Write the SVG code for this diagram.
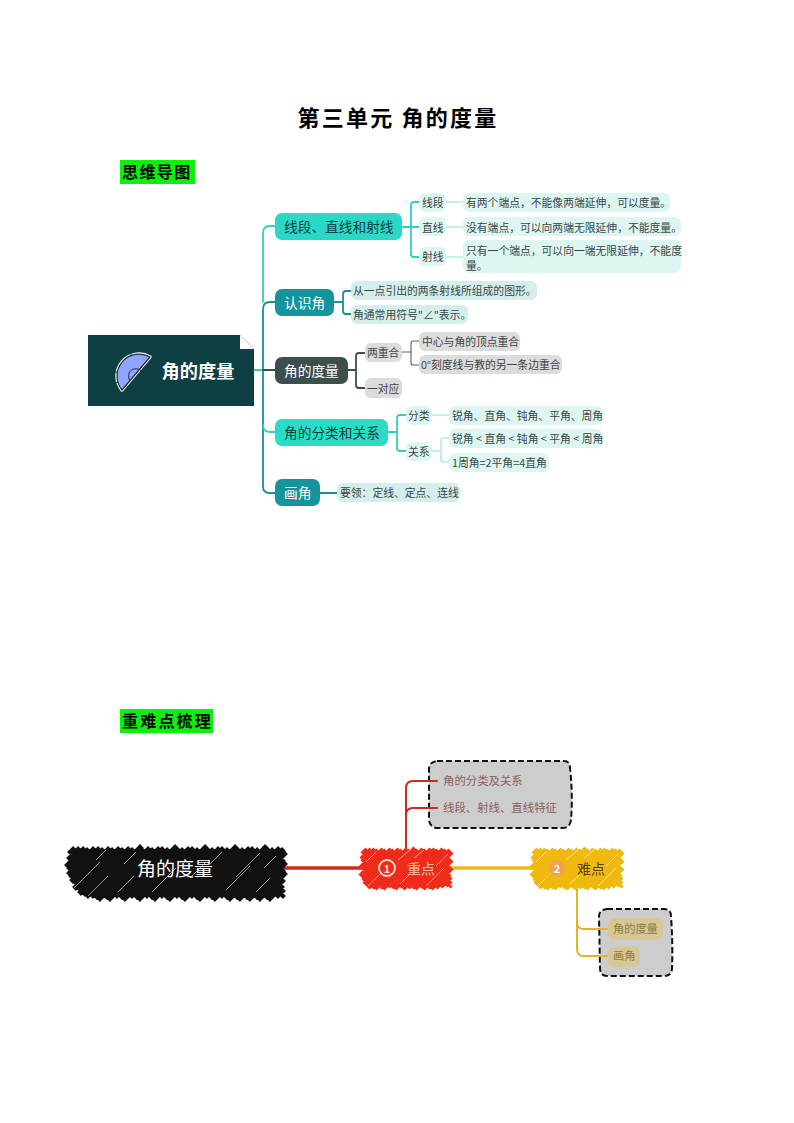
<svg xmlns="http://www.w3.org/2000/svg" xmlns:xlink="http://www.w3.org/1999/xlink" width="794" height="1123" viewBox="0 0 794 1123">
<style>
text{font-family:"Noto Sans CJK SC","Noto Sans",sans-serif;dominant-baseline:central;transform:translateY(-1px)}
.head{font-weight:700;fill:#000}
.n14{font-size:13.7px}
.leaf{font-size:10.8px;fill:#3c4645}
.w{fill:#fff}
.dk{fill:#10403f}
.c{fill:none;stroke-linecap:round}
.teal{stroke:#2fd0bf;stroke-width:1.8}
.tealthin{stroke:#8fe6da;stroke-width:1.2}
.petrol{stroke:#15909b;stroke-width:1.8}
.slate{stroke:#3d4f4d;stroke-width:1.8}
.slate2{stroke:#55605e;stroke-width:1.1}
.mint{fill:#def6f2}
.pale{fill:#d4eeec}
.grey{fill:#dcdcdc}
.box{fill:#cdcdcd;stroke:#111;stroke-width:2;stroke-dasharray:6 3}
.st{stroke:#fff;stroke-width:.8;opacity:.7;fill:none}
.red{stroke:#cf2a20;stroke-width:2;fill:none;stroke-linecap:round}
.yel{stroke:#e3b32c;stroke-width:2;fill:none;stroke-linecap:round}
</style>
<defs>
<path id="sc90" stroke-width="4.4" fill="none" d="M1 5L6 0M0 10L10 0M1 13L14 0M-1 19L17 1M1 21L22 0M-1 27L25 1M1 29L30 0M2 32L33 1M3 35L38 0M5 37L41 1M7 39L46 0M11 39L49 1M14 40L54 -1M19 39L57 1M22 40L62 0M27 38L65 1M31 39L70 0M34 40L74 0M39 38L77 1M42 40L82 0M47 39L85 1M51 39L89 1M54 40L91 3M59 38L89 9M62 40L91 11M67 39L89 17M70 40L91 19M75 39L89 25M80 38L90 28M85 37L90 32M88 38L90 36"/>
</defs>

<g id="title"><text class="head" x="398" y="117" font-size="22" letter-spacing="2.2" text-anchor="middle">第三单元 角的度量</text></g>
<g id="heading1"><rect x="120" y="160" width="75" height="24" fill="#0cf00c"/><text class="head" x="122" y="172" font-size="16" letter-spacing="1.4">思维导图</text></g>
<g id="heading2"><rect x="120" y="709" width="93" height="24" fill="#0cf00c"/><text class="head" x="122" y="721" font-size="16" letter-spacing="2.2">重难点梳理</text></g>

<g id="connectors">
<path class="c teal" d="M263 302V233Q263 226 270 226H275"/>
<path class="c petrol" d="M263 309Q263 302 270 302H275M263 309V487Q263 493 270 493H275"/>
<path class="c teal" d="M263 425Q263 432 270 432H275"/>
<path d="M254 370H263" class="c teal"/>
<path d="M263 370H275" class="c slate"/>
<path class="c teal" d="M402 227H411M419 202H414Q411 202 411 205V254Q411 257 414 257H419M411 227H419"/>
<path class="c tealthin" d="M446 202H463M446 227H463M446 257H463"/>
<path class="c petrol" d="M334 302H343M351 291H346Q343 291 343 294V311Q343 314 346 314H351"/>
<path class="c slate" d="M348 370H356M365 353H359Q356 353 356 356V385Q356 388 359 388H365"/>
<path class="c slate2" d="M402 352H411M419 341H413Q411 341 411 343V363Q411 365 413 365H419"/>
<path class="c teal" d="M388 432H397M406 415H400Q397 415 397 418V448Q397 451 400 451H406"/>
<path class="c tealthin" d="M432 415H449M432 451H441M449 438H443Q441 438 441 440V460Q441 462 443 462H449"/>
<path class="c petrol" d="M320 493H337"/>
<path d="M282 868H364" fill="none" stroke="#d52a1f" stroke-width="3.5"/>
<path d="M449 868H534" fill="none" stroke="#ecb720" stroke-width="3.5"/>
</g>

<g id="central"><path d="M88 335H240L254 349V406H88Z" fill="#0e3f42"/><path d="M240 335L254 349H240Z" fill="#fff"/>
<path d="M122 390A22 22 0 0 1 150 357Z" fill="#8fa5ff" stroke="#fff" stroke-width="3.4" stroke-linejoin="round"/>
<path d="M122 390A22 22 0 0 1 150 357Z" fill="#8fa5ff" stroke="#1b2a3a" stroke-width="1.2" stroke-linejoin="round"/>
<path d="M130 381C127 376 129 370 134 369C138 368 141 370 143 373M131 353V356M119 359L121 361M114 372H117M116 383L118 382" fill="none" stroke="#1b2a3a" stroke-width="1"/>
<text x="198" y="371" font-size="18.2" font-weight="700" text-anchor="middle" class="w">角的度量</text></g>

<g id="n1"><rect x="275" y="213" width="127" height="27" rx="7" fill="#2ad8c5"/><text class="n14 dk" x="284" y="227">线段、直线和射线</text></g>
<g id="n1a"><rect class="mint" x="419" y="193" width="27" height="19" rx="6"/><text class="leaf" x="422" y="203">线段</text></g>
<g id="n1b"><rect class="mint" x="419" y="217" width="27" height="19" rx="6"/><text class="leaf" x="422" y="228">直线</text></g>
<g id="n1c"><rect class="mint" x="419" y="247" width="27" height="19" rx="6"/><text class="leaf" x="422" y="257">射线</text></g>
<g id="n1a1"><rect class="mint" x="463" y="193" width="207" height="19" rx="6"/><text class="leaf" x="466" y="203">有两个端点，不能像两端延伸，可以度量。</text></g>
<g id="n1b1"><rect class="mint" x="463" y="217" width="218" height="19" rx="6"/><text class="leaf" x="466" y="228">没有端点，可以向两端无限延伸，不能度量。</text></g>
<g id="n1c1"><rect class="mint" x="463" y="240" width="218" height="33" rx="6"/><text class="leaf" x="466" y="251">只有一个端点，可以向一端无限延伸，不能度</text><text class="leaf" x="466" y="266">量。</text></g>

<g id="n2"><rect x="275" y="289" width="59" height="27" rx="7" fill="#17939e"/><text class="n14 w" x="284" y="303">认识角</text></g>
<g id="n2a"><rect class="pale" x="351" y="281" width="186" height="19" rx="6"/><text class="leaf" x="353" y="291">从一点引出的两条射线所组成的图形。</text></g>
<g id="n2b"><rect class="pale" x="351" y="305" width="117" height="19" rx="6"/><text class="leaf" x="353" y="315">角通常用符号"∠"表示。</text></g>

<g id="n3"><rect x="275" y="357" width="73" height="27" rx="7" fill="#3d4f4d"/><text class="n14 w" x="284" y="371">角的度量</text></g>
<g id="n3a"><rect class="grey" x="365" y="343" width="37" height="19" rx="6"/><text class="leaf" x="367" y="353">两重合</text></g>
<g id="n3b"><rect class="grey" x="365" y="378" width="37" height="20" rx="6"/><text class="leaf" x="367" y="389">一对应</text></g>
<g id="n3a1"><rect class="grey" x="419" y="332" width="101" height="19" rx="6"/><text class="leaf" x="422" y="342">中心与角的顶点重合</text></g>
<g id="n3a2"><rect class="grey" x="419" y="355" width="143" height="19" rx="6"/><text class="leaf" x="421" y="365">0°刻度线与教的另一条边重合</text></g>

<g id="n4"><rect x="275" y="419" width="113" height="27" rx="7" fill="#2adcc6"/><text class="n14 dk" x="284" y="433">角的分类和关系</text></g>
<g id="n4a"><rect class="mint" x="406" y="406" width="26" height="19" rx="6"/><text class="leaf" x="408" y="416">分类</text></g>
<g id="n4b"><rect class="mint" x="406" y="442" width="26" height="19" rx="6"/><text class="leaf" x="408" y="452">关系</text></g>
<g id="n4a1"><rect class="mint" x="449" y="406" width="154" height="19" rx="6"/><text class="leaf" x="452" y="416">锐角、直角、钝角、平角、周角</text></g>
<g id="n4b1"><rect class="mint" x="449" y="429" width="154" height="19" rx="6"/><text class="leaf" x="452" y="439">锐角 &lt; 直角 &lt; 钝角 &lt; 平角 &lt; 周角</text></g>
<g id="n4b2"><rect class="mint" x="449" y="453" width="100" height="19" rx="6"/><text class="leaf" x="452" y="463">1周角=2平角=4直角</text></g>

<g id="n5"><rect x="275" y="479" width="45" height="27" rx="7" fill="#15949e"/><text class="n14 w" x="284" y="493">画角</text></g>
<g id="n5a"><rect class="pale" x="337" y="483" width="123" height="19" rx="6"/><text class="leaf" x="340" y="493">要领：定线、定点、连线</text></g>

<g id="boxes">
<path class="box" d="M437 761H564Q570 761 570 768Q573 795 571 820Q570 828 562 828H438Q430 828 429 820V769Q429 762 437 761Z"/>
<path class="box" d="M607 909H664Q671 909 671 916Q673 945 672 968Q672 976 664 976H607Q600 976 600 968L599 916Q599 910 607 909Z"/>
</g>
<g id="branches">
<path class="red" d="M406 849V788Q406 781 413 781H437M406 815Q406 808 413 808H437"/>
<path class="yel" d="M577 888V949Q577 956 584 956H608M577 922Q577 929 584 929H608"/>
</g>

<g id="map-root">
<path stroke="#111" stroke-width="5.4" fill="none" transform="translate(67 848)" d="M2 6L8 0M1 12L13 0M-1 19L18 0M1 22L22 1M1 27L28 0M3 30L33 0M4 34L37 1M7 36L43 0M7 41L47 1M11 42L53 0M12 46L57 1M16 47L63 0M19 49L67 1M24 49L75 -2M28 50L77 1M31 52L83 0M38 50L87 1M41 52L93 0M48 49L97 0M53 50L102 1M56 52L110 -2M63 49L112 0M68 50L117 1M71 52L123 0M78 49L127 0M83 50L132 1M86 52L140 -2M93 49L142 0M98 50L147 1M101 52L153 0M108 49L157 0M113 50L162 1M116 52L170 -2M123 49L172 0M128 50L177 1M131 52L183 0M138 49L187 0M143 50L192 1M146 52L200 -2M153 49L202 0M158 50L207 1M161 52L213 0M168 50L217 1M171 52L219 4M178 50L217 11M181 52L219 14M188 50L217 21M191 52L219 24M198 50L217 31M201 52L216 37M209 49L217 41M214 49L217 46"/>
<path class="st" d="M74 888L100 862M88 896L108 876M118 892L134 876M152 892L176 868M190 878L206 862M226 890L250 866M236 877L260 853M256 892L270 878M124 864L136 852M210 864L222 852M96 860L106 850M264 868L276 856"/>
<text x="175" y="868" font-size="19" text-anchor="middle" class="w">角的度量</text>
</g>

<g id="map-key">
<use href="#sc90" xlink:href="#sc90" x="361" y="849" stroke="#ef2c19"/>
<path class="st" d="M368 886L382 872M398 860L410 850M426 886L444 868M400 884L410 874M414 858L424 850M366 862L376 852M436 866L448 854"/>
<circle cx="387" cy="868" r="8" fill="none" stroke="#ffdcd5" stroke-width="1.8"/>
<text x="387" y="869" font-size="11" font-weight="700" text-anchor="middle" fill="#ffdcd5">1</text>
<text x="421" y="869" font-size="14" text-anchor="middle" fill="#ffc0b0">重点</text>
</g>
<g id="map-hard">
<use href="#sc90" xlink:href="#sc90" x="532" y="849" stroke="#f0b90f"/>
<path class="st" d="M538 886L552 872M566 860L578 850M598 886L616 868M570 884L580 874M584 858L594 850M536 862L546 852M606 866L618 854"/>
<circle cx="557" cy="868" r="8" fill="#f2a24e"/>
<text x="557" y="869" font-size="11" font-weight="700" text-anchor="middle" fill="#fff">2</text>
<text x="591" y="869" font-size="14" text-anchor="middle" fill="#54420a">难点</text>
</g>

<g id="k1"><text x="443" y="781" font-size="11.4" fill="#8a5f5f">角的分类及关系</text></g>
<g id="k2"><text x="443" y="808" font-size="11.4" fill="#8a5f5f">线段、射线、直线特征</text></g>
<g id="h1"><rect x="608" y="918" width="55" height="22" rx="7" fill="#d6c794"/><text x="613" y="929" font-size="11.2" fill="#8c7a40">角的度量</text></g>
<g id="h2"><rect x="608" y="946" width="32" height="21" rx="7" fill="#d6c794"/><text x="613" y="956" font-size="11.2" fill="#8c7a40">画角</text></g>
</svg>
